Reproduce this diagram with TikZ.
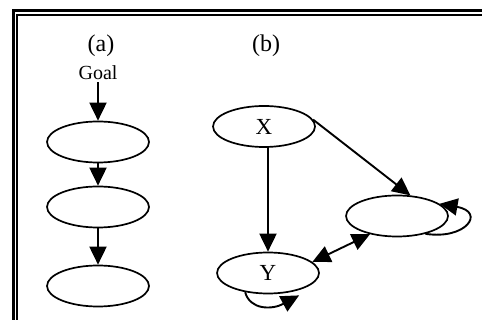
\documentclass[tikz,border=0pt]{standalone}
\usepackage{fontspec}
\setmainfont{Liberation Serif}
\usetikzlibrary{shapes.geometric,arrows.meta}
\begin{document}
\begin{tikzpicture}[x=0.5pt,y=-0.5pt,
    state/.style={ellipse,draw,line width=0.85pt,minimum width=51pt,minimum height=20.5pt,inner sep=0pt,font=\fontsize{11.5}{13}\selectfont},
    link/.style={line width=0.95pt,-{Triangle[length=9pt,width=8.5pt]}},
    duallink/.style={line width=0.95pt,{Triangle[length=9pt,width=8.5pt]}-{Triangle[length=9pt,width=8.5pt]}},
    panel/.style={font=\fontsize{12}{14}\selectfont}]

    \useasboundingbox (0,0) rectangle (482,320);

    % -- Double frame (runs off the right and the bottom edge) --
    \draw[line width=1.4pt] (482,10.5) -- (13.7,10.5) -- (13.7,320);
    \draw[line width=1.1pt] (482,15.3) -- (17.2,15.3) -- (17.2,320);

    % -- Panel (a): goal on top of a chain --
    \node[panel] (la) at (101,46) {(a)};
    \node[font=\fontsize{10}{12}\selectfont,inner sep=1pt] (goal) at (98,73) {Goal};
    \node[state] (a1) at (98,142) {};
    \node[state] (a2) at (98,207) {};
    \node[state] (a3) at (98,286) {};

    \draw[link] (goal) -- (a1);
    \draw[link] (a1) -- (a2);
    \draw[link] (a2) -- (a3);

    % -- Panel (b): X, Y and a third state --
    \node[panel] (lb) at (266,46) {(b)};
    \node[state] (X) at (264,126.5) {X};
    \node[state] (Y) at (268,273) {Y};
    \node[state] (R) at (397,216) {};

    \draw[link] (X.south -| Y.north) -- (Y.north);
    \draw[link] (X.8) -- (R.57);
    \draw[duallink] (Y.14) -- (R.214);

    % -- Self loops --
    \draw[link] (R.-32) .. controls (466,240) and (486,212) .. (R.16);
    \draw[link] (Y.-140) .. controls (250,310) and (272,310) .. ([shift={(1,5)}]Y.-30);

\end{tikzpicture}
\end{document}
